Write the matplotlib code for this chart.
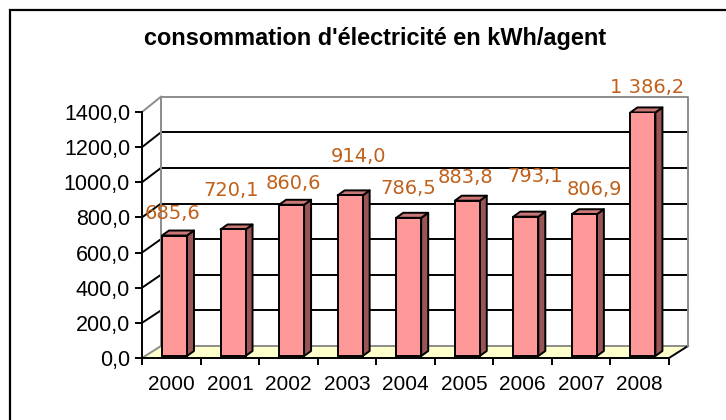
import numpy as np
import matplotlib.pyplot as plt
from matplotlib.patches import Polygon, Rectangle
from matplotlib.ticker import FuncFormatter

# data
years = ['2000', '2001', '2002', '2003', '2004', '2005', '2006', '2007', '2008']
values = [685.6, 720.1, 860.6, 914.0, 786.5, 883.8, 793.1, 806.9, 1386.2]
value_labels = ['685,6', '720,1', '860,6', '914,0', '786,5', '883,8', '793,1', '806,9', '1 386,2']
title = "consommation d'électricité en kWh/agent"

# where Excel dropped the value labels (pixels, relative to bar top centre)
label_dx_px = [-2, -2, 2, 8, 0, -2, 9, 10, 4]
label_dy_px = [22, 39, 21, 39, 29, 23, 40, 25, 25]

W, H = 726, 420
fig = plt.figure(figsize=(W / 100, H / 100), dpi=100)
fig.patch.set_facecolor('white')

# front plane of the fake 3d box
x0, x1, y0, y1 = 142, 669, 358, 112
ax = fig.add_axes([x0 / W, 1 - y0 / H, (x1 - x0) / W, (y0 - y1) / H])
n = len(values)
ymax = 1400
ax.set_xlim(-0.5, n - 0.5)
ax.set_ylim(0, ymax)
ax.patch.set_visible(False)

px_x = (x1 - x0) / n          # px per category
px_y = (y0 - y1) / ymax       # px per unit

# depth of the box and of the bars (px -> data units)
wdx = 19 / px_x
wdy = 12 / px_y
wscale = 1.0136
bdx_off = 3.2 / px_x
bdy_off = 2 / px_y
bw = 25 / px_x
bdx = 7 / px_x
bdy = 5 / px_y

def back(v):
    return wdy + v * wscale

grey = '#8c8c8c'
lw = 1.4
L, R = -0.5, n - 0.5

# floor
ax.add_patch(Polygon([(L, 0), (R, 0), (R + wdx, back(0)), (L + wdx, back(0))],
                     closed=True, facecolor='#FFFFCC', edgecolor='none', clip_on=False, zorder=1))
ax.plot([L + wdx, R + wdx], [back(0), back(0)], color=grey, lw=lw, clip_on=False, zorder=2)
ax.plot([R, R + wdx], [0, back(0)], color='black', lw=lw, clip_on=False, zorder=2)

# back wall and grid
ticks = np.arange(0, ymax + 1, 200)
for t in ticks[1:-1]:
    ax.plot([L + wdx, R + wdx], [back(t), back(t)], color='black', lw=lw, clip_on=False, zorder=2)
    ax.plot([L, L + wdx], [t, back(t)], color='black', lw=lw, clip_on=False, zorder=2)
ax.plot([L, L + wdx], [0, back(0)], color=grey, lw=lw, clip_on=False, zorder=2)
ax.plot([L, L + wdx], [ymax, back(ymax)], color=grey, lw=lw, clip_on=False, zorder=2)
ax.plot([L + wdx, L + wdx, R + wdx, R + wdx], [back(0), back(ymax), back(ymax), back(0)],
        color=grey, lw=lw, clip_on=False, zorder=2)

# bars
xs = np.arange(n) + bdx_off
ax.bar(xs, values, width=bw, bottom=bdy_off, color='#FF9999', edgecolor='black',
       linewidth=lw, zorder=5)
for x, v in zip(xs, values):
    xl, xr = x - bw / 2, x + bw / 2
    top = bdy_off + v
    side = [(xr, bdy_off), (xr + bdx, bdy_off + bdy), (xr + bdx, top + bdy), (xr, top)]
    ax.add_patch(Polygon(side, closed=True, facecolor='#995555', edgecolor='black',
                         lw=lw, joinstyle='round', zorder=4, clip_on=False))
    cap = [(xl, top), (xr, top), (xr + bdx, top + bdy), (xl + bdx, top + bdy)]
    ax.add_patch(Polygon(cap, closed=True, facecolor='#CC7777', edgecolor='black',
                         lw=lw, joinstyle='round', zorder=4, clip_on=False))

for x, v, s, dx, dy in zip(xs, values, value_labels, label_dx_px, label_dy_px):
    ax.annotate(s, (x, bdy_off + v), xytext=(dx * 0.72, dy * 0.72), textcoords='offset points',
                ha='center', va='center', fontsize=14, color='#C0601A',
                family='DejaVu Sans', zorder=6, annotation_clip=False)

# axes
for sp in ['top', 'right']:
    ax.spines[sp].set_visible(False)
for sp in ['left', 'bottom']:
    ax.spines[sp].set_linewidth(lw)
    ax.spines[sp].set_zorder(3)
ax.set_yticks(ticks)
ax.yaxis.set_major_formatter(FuncFormatter(lambda v, p: f'{v:.1f}'.replace('.', ',')))
ax.set_xticks(np.arange(-0.5, n, 1.0))
ax.set_xticklabels([])
ax.set_xticks(np.arange(n), minor=True)
ax.set_xticklabels(years, minor=True)
ax.tick_params(axis='both', which='major', direction='out', length=5, width=lw,
               colors='black')
ax.tick_params(axis='y', pad=3.6, labelsize=15.5)
ax.tick_params(axis='x', which='minor', length=0, labelsize=15, pad=12)
for lab in ax.get_yticklabels() + ax.get_xticklabels(minor=True):
    lab.set_family('Liberation Sans')

fig.text(375.5 / W, 1 - 44.5 / H, title, ha='center', va='baseline',
         fontsize=16.9, fontweight='bold', family='Liberation Sans')

# chart frame (runs past the right and bottom edges)
fig.add_artist(Rectangle((10 / W, -1), 2, 2 - 10 / H, transform=fig.transFigure,
                         fill=False, edgecolor='black', lw=1.6))

fig.savefig('out.png', dpi=100)
